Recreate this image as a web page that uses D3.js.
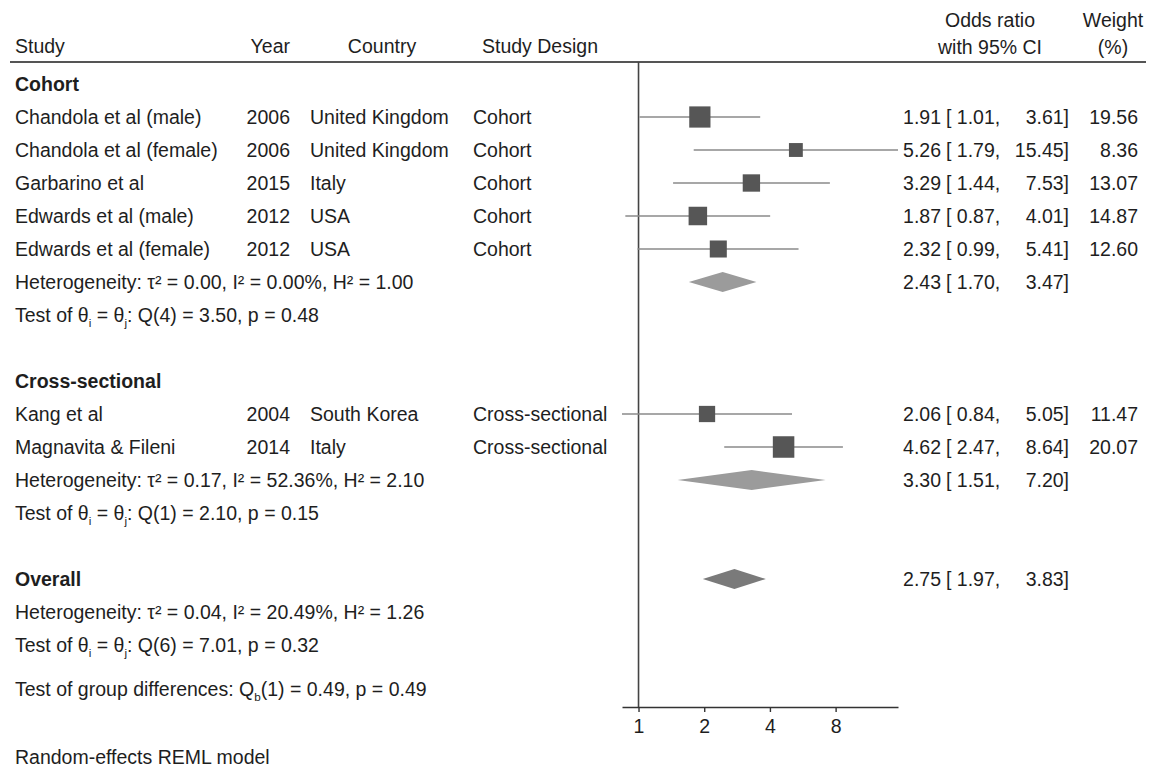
<!DOCTYPE html>
<html>
<head>
<meta charset="utf-8">
<script src="https://cdn.jsdelivr.net/npm/d3@7"></script>
<style>
  html, body { margin: 0; padding: 0; background: #fff; }
  svg text { font-family: "Liberation Sans", Arial, Helvetica, sans-serif; fill: #1e1e1e; }
</style>
</head>
<body>
<svg id="chart" width="1154" height="771"></svg>
<script>
// ---- Study-level data ----
const studies   = ["Chandola et al (male)", "Chandola et al (female)", "Garbarino et al",
                   "Edwards et al (male)", "Edwards et al (female)", "Kang et al", "Magnavita & Fileni"];
const years     = ["2006", "2006", "2015", "2012", "2012", "2004", "2014"];
const countries = ["United Kingdom", "United Kingdom", "Italy", "USA", "USA", "South Korea", "Italy"];
const designs   = ["Cohort", "Cohort", "Cohort", "Cohort", "Cohort", "Cross-sectional", "Cross-sectional"];
const oddsRatio = [1.91, 5.26, 3.29, 1.87, 2.32, 2.06, 4.62];
const ciLower   = [1.01, 1.79, 1.44, 0.87, 0.99, 0.84, 2.47];
const ciUpper   = [3.61, 15.45, 7.53, 4.01, 5.41, 5.05, 8.64];
const weights   = [19.56, 8.36, 13.07, 14.87, 12.60, 11.47, 20.07];

// ---- Subgroup and overall summaries ----
const groupNames  = ["Cohort", "Cross-sectional"];
const groupOR     = [2.43, 3.30];
const groupLower  = [1.70, 1.51];
const groupUpper  = [3.47, 7.20];
const groupTau2   = ["0.00", "0.17"];
const groupI2     = ["0.00", "52.36"];
const groupH2     = ["1.00", "2.10"];
const groupQdf    = ["4", "1"];
const groupQ      = ["3.50", "2.10"];
const groupP      = ["0.48", "0.15"];

const overallOR = 2.75, overallLower = 1.97, overallUpper = 3.83;
const overallStats = { tau2: "0.04", i2: "20.49", h2: "1.26", df: "6", q: "7.01", p: "0.32" };
const groupDiff = { df: "1", q: "0.49", p: "0.49" };

const tickValues = [1, 2, 4, 8];

// ---- Layout ----
const svg = d3.select("#chart");
const FS = 19.5;
const SUB = FS * 0.6;   // subscript size
const SUB_SHIFT = 5;    // subscript drop, px
const rowY = d3.scaleLinear().domain([0, 1]).range([84, 117]);
const x = d3.scaleLog().base(2)
  .domain([d3.min(ciLower), d3.max(ciUpper)])
  .range([622, 898]);
const axisY = 707;
const headerLineY = 62;

const col = { study: 15, yearEnd: 290, country: 310, countryMid: 382, design: 473, designMid: 540,
              estEnd: 941, ciStart: 946, ciEnd: 1069, wEnd: 1138, ciMid: 990, wMid: 1113 };

const fmt = d3.format(".2f");

// Build the row list
const rows = [];
let r = 0;
const groupStudyIdx = [[0, 1, 2, 3, 4], [5, 6]];
groupNames.forEach((g, gi) => {
  rows.push({ type: "groupTitle", label: g, i: r++ });
  groupStudyIdx[gi].forEach(k => rows.push({ type: "study", k, i: r++ }));
  rows.push({ type: "het", tau2: groupTau2[gi], i2: groupI2[gi], h2: groupH2[gi],
              est: groupOR[gi], lo: groupLower[gi], hi: groupUpper[gi], diamond: "group", i: r++ });
  rows.push({ type: "test", df: groupQdf[gi], q: groupQ[gi], p: groupP[gi], i: r++ });
  r++; // blank spacer row
});
rows.push({ type: "overall", est: overallOR, lo: overallLower, hi: overallUpper, i: r++ });
rows.push({ type: "het", tau2: overallStats.tau2, i2: overallStats.i2, h2: overallStats.h2, i: r++ });
rows.push({ type: "test", df: overallStats.df, q: overallStats.q, p: overallStats.p, i: r++ });
rows.push({ type: "groupdiff", i: r + 0.33 });

function txt(xp, yp, s, anchor = "start", weight = "normal") {
  return svg.append("text").attr("x", xp).attr("y", yp).attr("dy", "0.35em")
    .attr("font-size", FS).attr("text-anchor", anchor).attr("font-weight", weight).text(s);
}

// Text line made of [text, isSubscript] parts, each placed on an explicit baseline
function richLine(yCenter, parts) {
  const base = yCenter + 0.35 * FS;
  const t = svg.append("text").attr("x", col.study).attr("y", base).attr("font-size", FS);
  parts.forEach(([s, sub]) => {
    t.append("tspan")
      .attr("y", sub ? base + SUB_SHIFT : base)
      .attr("font-size", sub ? SUB : FS)
      .text(s);
  });
  return t;
}

function ciText(y, est, lo, hi) {
  txt(col.estEnd, y, fmt(est), "end");
  txt(col.ciStart, y, "[ " + fmt(lo) + ",");
  txt(col.ciEnd, y, fmt(hi) + "]", "end");
}

// ---- Header ----
txt(col.study, 46, "Study");
txt(col.yearEnd, 46, "Year", "end");
txt(col.countryMid, 46, "Country", "middle");
txt(col.designMid, 46, "Study Design", "middle");
txt(col.ciMid, 20, "Odds ratio", "middle");
txt(col.ciMid, 47, "with 95% CI", "middle");
txt(col.wMid, 20, "Weight", "middle");
txt(col.wMid, 47, "(%)", "middle");

svg.append("line").attr("x1", 10).attr("x2", 1146)
  .attr("y1", headerLineY).attr("y2", headerLineY)
  .attr("stroke", "#555").attr("stroke-width", 2);

// No-effect reference line
svg.append("line").attr("x1", x(1)).attr("x2", x(1))
  .attr("y1", headerLineY).attr("y2", axisY)
  .attr("stroke", "#444").attr("stroke-width", 1.6);

// ---- Rows ----
const diamondPath = (est, lo, hi, y, h) =>
  `M${x(lo)},${y} L${x(est)},${y - h / 2} L${x(hi)},${y} L${x(est)},${y + h / 2} Z`;

function stats(y, tau2, i2, h2) {
  txt(col.study, y, `Heterogeneity: τ² = ${tau2}, I² = ${i2}%, H² = ${h2}`);
}

function testLine(y, df, q, p) {
  richLine(y, [["Test of θ", false], ["i", true], [" = θ", false], ["j", true],
               [`: Q(${df}) = ${q}, p = ${p}`, false]]);
}

rows.forEach(row => {
  const y = rowY(row.i);
  if (row.type === "groupTitle") {
    txt(col.study, y, row.label, "start", "bold");
  } else if (row.type === "study") {
    const k = row.k;
    txt(col.study, y, studies[k]);
    txt(col.yearEnd, y, years[k], "end");
    txt(col.country, y, countries[k]);
    txt(col.design, y, designs[k]);
    svg.append("line").attr("x1", x(ciLower[k])).attr("x2", x(ciUpper[k]))
      .attr("y1", y).attr("y2", y).attr("stroke", "#8a8a8a").attr("stroke-width", 1.6);
    const side = 4.8 * Math.sqrt(weights[k]);
    svg.append("rect").attr("x", x(oddsRatio[k]) - side / 2).attr("y", y - side / 2)
      .attr("width", side).attr("height", side).attr("fill", "#565656");
    ciText(y, oddsRatio[k], ciLower[k], ciUpper[k]);
    txt(col.wEnd, y, fmt(weights[k]), "end");
  } else if (row.type === "het") {
    stats(y, row.tau2, row.i2, row.h2);
    if (row.diamond) {
      svg.append("path").attr("d", diamondPath(row.est, row.lo, row.hi, y, 20)).attr("fill", "#9b9b9b");
      ciText(y, row.est, row.lo, row.hi);
    }
  } else if (row.type === "test") {
    testLine(y, row.df, row.q, row.p);
  } else if (row.type === "overall") {
    txt(col.study, y, "Overall", "start", "bold");
    svg.append("path").attr("d", diamondPath(row.est, row.lo, row.hi, y, 20)).attr("fill", "#7a7a7a");
    ciText(y, row.est, row.lo, row.hi);
  } else if (row.type === "groupdiff") {
    richLine(y, [["Test of group differences: Q", false], ["b", true],
                 [`(${groupDiff.df}) = ${groupDiff.q}, p = ${groupDiff.p}`, false]]);
  }
});

// ---- Axis ----
const axis = d3.axisBottom(x).tickValues(tickValues).tickFormat(d3.format("d"))
  .tickSize(5).tickSizeOuter(0).tickPadding(7);
const gAxis = svg.append("g").attr("transform", `translate(0,${axisY})`).call(axis);
gAxis.select(".domain").attr("stroke", "#333").attr("stroke-width", 1.6);
gAxis.selectAll(".tick line").attr("stroke", "#333").attr("stroke-width", 1.4);
gAxis.selectAll(".tick text").attr("font-size", FS).attr("fill", "#1e1e1e")
  .attr("font-family", "'Liberation Sans', Arial, sans-serif");

// Footnote
txt(col.study, 757, "Random-effects REML model");
</script>
</body>
</html>
